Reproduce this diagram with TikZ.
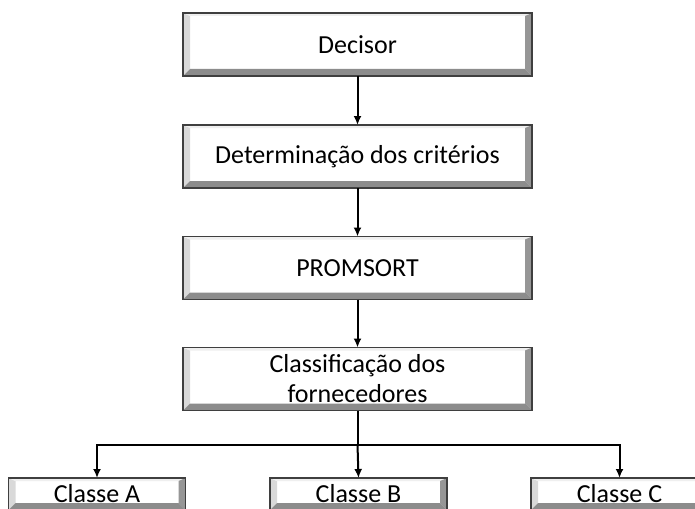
\documentclass[tikz,border=0pt]{standalone}
\usepackage{fontspec}
\setmainfont{Carlito}
\usetikzlibrary{arrows.meta,calc}
\definecolor{bordc}{HTML}{3F3F3F}
\definecolor{bevl}{HTML}{D9D9D9}
\definecolor{bevt}{HTML}{EFEFEF}
\definecolor{bevd}{HTML}{969696}
\definecolor{bevb}{HTML}{8C8C8C}
\newcommand\bevelframe[1]{%
 \fill[bevl] (#1.north west) -- ([shift={(7pt,-3pt)}]#1.north west) -- ([shift={(7pt,7pt)}]#1.south west) -- (#1.south west) -- cycle;
 \fill[bevt] (#1.north west) -- (#1.north east) -- ([shift={(-7pt,-3pt)}]#1.north east) -- ([shift={(7pt,-3pt)}]#1.north west) -- cycle;
 \fill[bevd] (#1.north east) -- (#1.south east) -- ([shift={(-7pt,7pt)}]#1.south east) -- ([shift={(-7pt,-3pt)}]#1.north east) -- cycle;
 \fill[bevb] (#1.south west) -- ([shift={(7pt,7pt)}]#1.south west) -- ([shift={(-7pt,7pt)}]#1.south east) -- (#1.south east) -- cycle;
 \draw[bordc, line width=1.6pt] (#1.north west) rectangle (#1.south east);
}
\begin{document}
\begin{tikzpicture}[x=1pt,y=-1pt,
 box/.style={draw=none, fill=white, minimum width=349pt, minimum height=63pt, inner sep=0pt, outer sep=0pt, font=\fontsize{26}{30}\selectfont, align=center, text=black},
 cbox/.style={box, minimum width=177pt, minimum height=32pt},
 conn/.style={line width=2pt, -{Latex[length=9pt,width=8pt]}},
 plain/.style={line width=2pt}]
\clip (0,0) rectangle (695,508);
\useasboundingbox (0,0) rectangle (695,508);
\node[box] (d1) at (357.5,44.5) {Decisor};
\node[box] (d2) at (357.5,156.5) {Determinação dos critérios};
\node[box] (d3) at (357.5,268) {PROMSORT};
\node[box] (d4) at (357.5,379) {Classificação dos\\fornecedores};
\node[cbox] (cA) at (97,494) {Classe A};
\node[cbox] (cB) at (358.5,494) {Classe B};
\node[cbox] (cC) at (619.5,494) {Classe C};
\bevelframe{d1}\bevelframe{d2}\bevelframe{d3}\bevelframe{d4}
\bevelframe{cA}\bevelframe{cB}\bevelframe{cC}
\draw[conn] (d1) -- (d2);
\draw[conn] (d2) -- (d3);
\draw[conn] (d3) -- (d4);
\coordinate (j) at ($(d4.south)+(0,34)$);
\draw[plain] (d4.south) -- (j);
\draw[conn] (j) -| (cA.north);
\draw[conn] (j) -- (cB.north);
\draw[conn] (j) -| (cC.north);
\end{tikzpicture}
\end{document}
